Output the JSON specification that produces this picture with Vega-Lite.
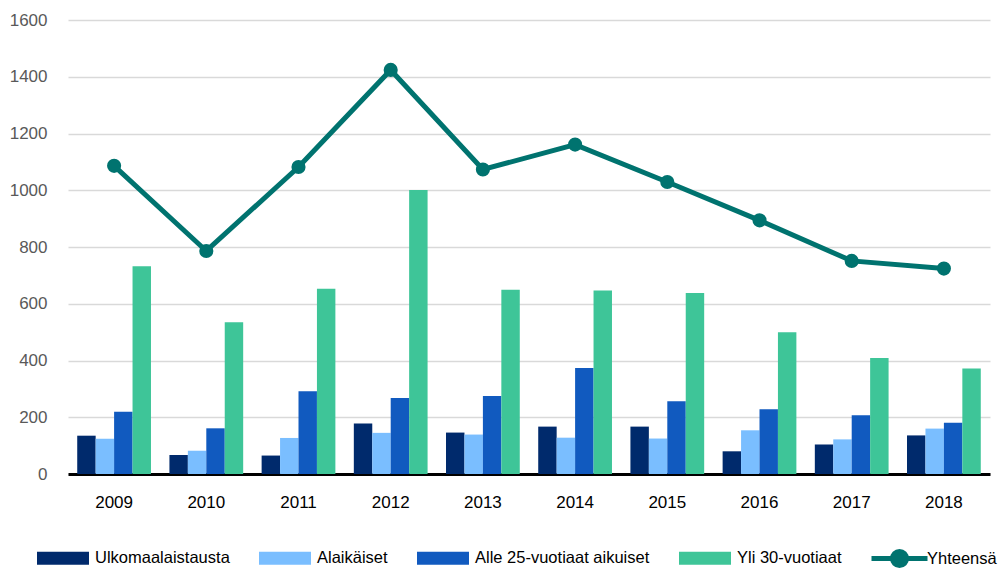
{
  "$schema": "https://vega.github.io/schema/vega-lite/v6.json",
  "width": 922,
  "height": 454,
  "autosize": {"type": "none"},
  "padding": {"left": 68, "top": 20, "right": 10, "bottom": 94},
  "background": "white",
  "config": {
    "font": "Liberation Sans",
    "view": {"stroke": null},
    "axis": {"labelFont": "Liberation Sans", "labelFontSize": 17}
  },
  "data": {
    "values": [
      {"vuosi": "2009", "sarja": "Ulkomaalaistausta", "arvo": 135},
      {"vuosi": "2009", "sarja": "Alaikäiset", "arvo": 124},
      {"vuosi": "2009", "sarja": "Alle 25-vuotiaat aikuiset", "arvo": 219},
      {"vuosi": "2009", "sarja": "Yli 30-vuotiaat", "arvo": 732},
      {"vuosi": "2009", "sarja": "Yhteensä", "arvo": 1086},
      {"vuosi": "2010", "sarja": "Ulkomaalaistausta", "arvo": 67},
      {"vuosi": "2010", "sarja": "Alaikäiset", "arvo": 82},
      {"vuosi": "2010", "sarja": "Alle 25-vuotiaat aikuiset", "arvo": 161},
      {"vuosi": "2010", "sarja": "Yli 30-vuotiaat", "arvo": 535},
      {"vuosi": "2010", "sarja": "Yhteensä", "arvo": 786},
      {"vuosi": "2011", "sarja": "Ulkomaalaistausta", "arvo": 65},
      {"vuosi": "2011", "sarja": "Alaikäiset", "arvo": 127},
      {"vuosi": "2011", "sarja": "Alle 25-vuotiaat aikuiset", "arvo": 292},
      {"vuosi": "2011", "sarja": "Yli 30-vuotiaat", "arvo": 653},
      {"vuosi": "2011", "sarja": "Yhteensä", "arvo": 1082},
      {"vuosi": "2012", "sarja": "Ulkomaalaistausta", "arvo": 178},
      {"vuosi": "2012", "sarja": "Alaikäiset", "arvo": 145},
      {"vuosi": "2012", "sarja": "Alle 25-vuotiaat aikuiset", "arvo": 268},
      {"vuosi": "2012", "sarja": "Yli 30-vuotiaat", "arvo": 1001},
      {"vuosi": "2012", "sarja": "Yhteensä", "arvo": 1424},
      {"vuosi": "2013", "sarja": "Ulkomaalaistausta", "arvo": 146},
      {"vuosi": "2013", "sarja": "Alaikäiset", "arvo": 139},
      {"vuosi": "2013", "sarja": "Alle 25-vuotiaat aikuiset", "arvo": 275},
      {"vuosi": "2013", "sarja": "Yli 30-vuotiaat", "arvo": 649},
      {"vuosi": "2013", "sarja": "Yhteensä", "arvo": 1073},
      {"vuosi": "2014", "sarja": "Ulkomaalaistausta", "arvo": 167},
      {"vuosi": "2014", "sarja": "Alaikäiset", "arvo": 128},
      {"vuosi": "2014", "sarja": "Alle 25-vuotiaat aikuiset", "arvo": 374},
      {"vuosi": "2014", "sarja": "Yli 30-vuotiaat", "arvo": 647},
      {"vuosi": "2014", "sarja": "Yhteensä", "arvo": 1161},
      {"vuosi": "2015", "sarja": "Ulkomaalaistausta", "arvo": 167},
      {"vuosi": "2015", "sarja": "Alaikäiset", "arvo": 125},
      {"vuosi": "2015", "sarja": "Alle 25-vuotiaat aikuiset", "arvo": 256},
      {"vuosi": "2015", "sarja": "Yli 30-vuotiaat", "arvo": 638},
      {"vuosi": "2015", "sarja": "Yhteensä", "arvo": 1029},
      {"vuosi": "2016", "sarja": "Ulkomaalaistausta", "arvo": 80},
      {"vuosi": "2016", "sarja": "Alaikäiset", "arvo": 154},
      {"vuosi": "2016", "sarja": "Alle 25-vuotiaat aikuiset", "arvo": 228},
      {"vuosi": "2016", "sarja": "Yli 30-vuotiaat", "arvo": 500},
      {"vuosi": "2016", "sarja": "Yhteensä", "arvo": 894},
      {"vuosi": "2017", "sarja": "Ulkomaalaistausta", "arvo": 104},
      {"vuosi": "2017", "sarja": "Alaikäiset", "arvo": 122},
      {"vuosi": "2017", "sarja": "Alle 25-vuotiaat aikuiset", "arvo": 207},
      {"vuosi": "2017", "sarja": "Yli 30-vuotiaat", "arvo": 409},
      {"vuosi": "2017", "sarja": "Yhteensä", "arvo": 751},
      {"vuosi": "2018", "sarja": "Ulkomaalaistausta", "arvo": 136},
      {"vuosi": "2018", "sarja": "Alaikäiset", "arvo": 160},
      {"vuosi": "2018", "sarja": "Alle 25-vuotiaat aikuiset", "arvo": 181},
      {"vuosi": "2018", "sarja": "Yli 30-vuotiaat", "arvo": 372},
      {"vuosi": "2018", "sarja": "Yhteensä", "arvo": 724}
    ]
  },
  "encoding": {
    "x": {
      "field": "vuosi",
      "type": "nominal",
      "scale": {"paddingInner": 0.2, "paddingOuter": 0.1},
      "axis": {
        "title": null,
        "labelAngle": 0,
        "labelColor": "#000000",
        "labelPadding": 20,
        "ticks": false,
        "domainColor": "#000000",
        "domainWidth": 3,
        "grid": false
      }
    },
    "y": {
      "field": "arvo",
      "type": "quantitative",
      "scale": {"domain": [0, 1600], "nice": false},
      "axis": {
        "title": null,
        "values": [0, 200, 400, 600, 800, 1000, 1200, 1400, 1600],
        "format": "d",
        "labelColor": "#595959",
        "labelPadding": 21,
        "ticks": false,
        "domain": false,
        "gridColor": "#D9D9D9",
        "gridWidth": 1.5
      }
    }
  },
  "layer": [
    {
      "transform": [{"filter": "datum.sarja !== 'Yhteensä'"}],
      "mark": {"type": "bar"},
      "encoding": {
        "xOffset": {
          "field": "sarja",
          "type": "nominal",
          "sort": ["Ulkomaalaistausta", "Alaikäiset", "Alle 25-vuotiaat aikuiset", "Yli 30-vuotiaat"],
          "scale": {"paddingInner": 0, "paddingOuter": 0}
        },
        "color": {
          "field": "sarja",
          "type": "nominal",
          "sort": ["Ulkomaalaistausta", "Alaikäiset", "Alle 25-vuotiaat aikuiset", "Yli 30-vuotiaat"],
          "scale": {
            "domain": ["Ulkomaalaistausta", "Alaikäiset", "Alle 25-vuotiaat aikuiset", "Yli 30-vuotiaat"],
            "range": ["#002A6C", "#7ABEFF", "#115ABF", "#3EC598"]
          },
          "legend": {
            "title": null,
            "orient": "none",
            "direction": "horizontal",
            "legendX": -18,
            "legendY": 525,
            "symbolType": "M-2,-0.5H2V0.5H-2Z",
            "symbolSize": 676,
            "symbolOpacity": 1,
            "symbolStrokeWidth": 0,
            "labelFont": "Liberation Sans",
            "labelFontSize": 16.5,
            "labelColor": "#000000",
            "labelOffset": 19,
            "columnPadding": 29,
            "labelLimit": 400
          }
        }
      }
    },
    {
      "transform": [{"filter": "datum.sarja === 'Yhteensä'"}],
      "mark": {"type": "line", "strokeWidth": 5},
      "encoding": {
        "stroke": {
          "field": "sarja",
          "type": "nominal",
          "scale": {"domain": ["Yhteensä"], "range": ["#00736F"]},
          "legend": {
            "title": null,
            "orient": "none",
            "direction": "horizontal",
            "legendX": 815,
            "legendY": 522,
            "symbolType": "M-2,0H2M0.5,0A0.5,0.5,0,1,1,-0.5,0A0.5,0.5,0,1,1,0.5,0",
            "symbolSize": 784,
            "symbolStrokeWidth": 5,
            "symbolFillColor": "#00736F",
            "symbolStrokeColor": "#00736F",
            "labelFont": "Liberation Sans",
            "labelFontSize": 16.5,
            "labelColor": "#000000",
            "labelOffset": 11,
            "labelLimit": 400
          }
        }
      }
    },
    {
      "transform": [{"filter": "datum.sarja === 'Yhteensä'"}],
      "mark": {"type": "circle", "size": 200, "opacity": 1, "color": "#00736F"},
      "encoding": {}
    }
  ]
}
